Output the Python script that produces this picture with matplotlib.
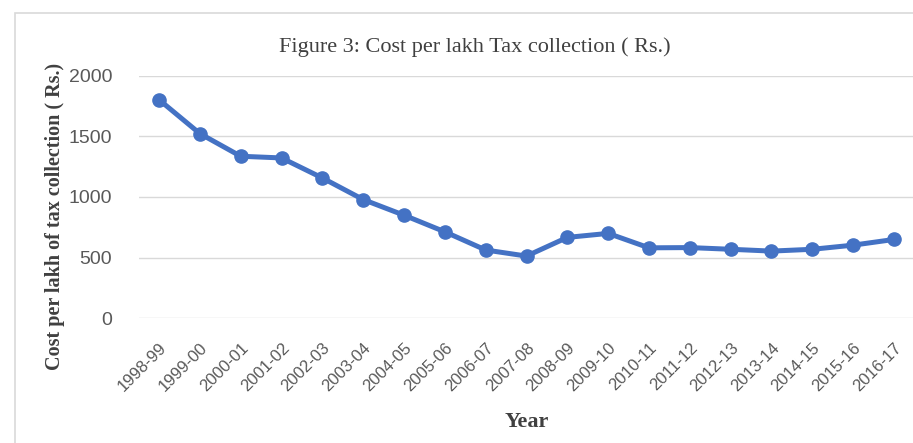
import matplotlib
matplotlib.use("Agg")
import matplotlib.pyplot as plt
from matplotlib.patches import Rectangle

years = ["1998-99", "1999-00", "2000-01", "2001-02", "2002-03", "2003-04",
         "2004-05", "2005-06", "2006-07", "2007-08", "2008-09", "2009-10",
         "2010-11", "2011-12", "2012-13", "2013-14", "2014-15", "2015-16",
         "2016-17"]
cost = [1802, 1523, 1336, 1322, 1157, 979, 850, 713, 563, 513, 667, 700,
        581, 583, 569, 554, 569, 603, 650]
yticks = [0, 500, 1000, 1500, 2000]

W, H = 913, 443
fig = plt.figure(figsize=(W / 100, H / 100), dpi=100)
fig.patch.set_facecolor("white")

# chart frame
fig.patches.append(Rectangle((15 / W, -0.05), 1.0, 1 - 13 / H + 0.05,
                             transform=fig.transFigure, fill=False,
                             edgecolor="#d9d9d9", linewidth=1.2))

ax = fig.add_axes([138.6 / W, 1 - 318.3 / H, 775.8 / W, (318.3 - 75.7) / H])
x = list(range(len(years)))
ax.plot(x, cost, color="#4472c4", linewidth=3.6, marker="o", markersize=9.5,
        solid_capstyle="round", solid_joinstyle="round", zorder=3)

ax.set_xlim(-0.5, len(years) - 0.5)
ax.set_ylim(0, 2000)
ax.set_yticks(yticks)
ax.set_xticks(x)
ax.set_xticklabels(years, rotation=45, ha="right", rotation_mode="anchor",
                   fontsize=12, color="#595959", family="Liberation Sans")
ax.tick_params(axis="y", labelsize=14, colors="#595959", length=0, pad=19)
ax.tick_params(axis="x", length=0, pad=16)
for lbl in ax.get_yticklabels():
    lbl.set_family("Liberation Sans")
ax.grid(axis="y", color="#d9d9d9", linewidth=1)
ax.set_axisbelow(True)
for s in ax.spines.values():
    s.set_visible(False)

fig.text(475 / W, 1 - 47 / H, "Figure 3: Cost per lakh Tax collection ( Rs.)",
         ha="center", va="center", fontsize=16, color="#404040",
         family="Liberation Serif")
fig.text(55 / W, 1 - 216 / H, "Cost per lakh of tax collection ( Rs.)",
         ha="center", va="center", rotation=90, fontsize=14.5,
         fontweight="bold", color="#404040", family="Liberation Serif")
fig.text(527 / W, 1 - 422 / H, "Year", ha="center", va="center",
         fontsize=16, fontweight="bold", color="#404040",
         family="Liberation Serif")

fig.savefig("out.png", dpi=100)
